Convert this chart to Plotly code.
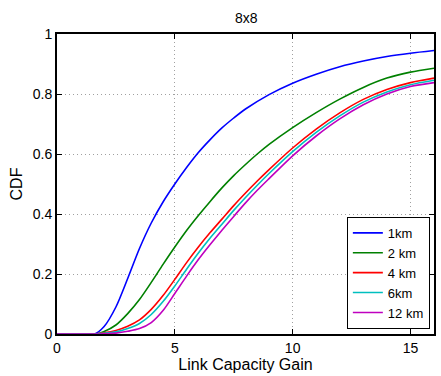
import plotly.graph_objects as go

names = ["1km", "2 km", "4 km", "6km", "12 km"]
colors = ["#0000ff", "#008000", "#ff0000", "#00bfbf", "#bf00bf"]

x_1km = [0, 1.6, 2, 2.5, 3, 3.5, 4, 4.5, 5, 5.5, 6, 6.5, 7, 7.5, 8, 9, 10, 11, 12, 13, 14, 15, 16]
y_1km = [0, 0, 0.025, 0.09, 0.185, 0.285, 0.37, 0.44, 0.50, 0.555, 0.605, 0.648, 0.687, 0.72, 0.75, 0.798, 0.836, 0.866, 0.891, 0.91, 0.925, 0.936, 0.945]

x_2km = [0, 1.7, 2, 2.5, 3, 3.5, 4, 4.5, 5, 5.5, 6, 6.5, 7, 7.5, 8, 8.5, 9, 10, 11, 12, 13, 14, 15, 16]
y_2km = [0, 0, 0.008, 0.03, 0.068, 0.115, 0.172, 0.232, 0.29, 0.345, 0.395, 0.442, 0.487, 0.528, 0.565, 0.6, 0.632, 0.688, 0.738, 0.783, 0.822, 0.853, 0.873, 0.886]

x_4km = [0, 1.5, 2, 2.5, 3, 3.5, 4, 4.5, 5, 5.5, 6, 6.5, 7, 7.5, 8, 8.5, 9, 10, 11, 12, 13, 14, 15, 16]
y_4km = [0, 0, 0.004, 0.012, 0.026, 0.047, 0.082, 0.128, 0.182, 0.238, 0.29, 0.338, 0.383, 0.428, 0.47, 0.51, 0.548, 0.62, 0.683, 0.737, 0.782, 0.815, 0.838, 0.853]

x_6km = [0, 1.6, 2, 2.5, 3, 3.5, 4, 4.5, 5, 5.5, 6, 6.5, 7, 7.5, 8, 8.5, 9, 10, 11, 12, 13, 14, 15, 16]
y_6km = [0, 0, 0.002, 0.007, 0.018, 0.035, 0.065, 0.108, 0.16, 0.216, 0.27, 0.32, 0.366, 0.412, 0.455, 0.496, 0.535, 0.608, 0.672, 0.727, 0.773, 0.807, 0.831, 0.846]

x_12km = [0, 1.8, 2, 2.5, 3, 3.5, 4, 4.5, 5, 5.5, 6, 6.5, 7, 7.5, 8, 8.5, 9, 10, 11, 12, 13, 14, 15, 16]
y_12km = [0, 0, 0.001, 0.003, 0.009, 0.018, 0.038, 0.078, 0.135, 0.193, 0.248, 0.298, 0.346, 0.392, 0.437, 0.479, 0.518, 0.594, 0.66, 0.717, 0.764, 0.8, 0.825, 0.838]

series_x = [x_1km, x_2km, x_4km, x_6km, x_12km]
series_y = [y_1km, y_2km, y_4km, y_6km, y_12km]

x_ticks = [0, 5, 10, 15]
y_ticks = [0, 0.2, 0.4, 0.6, 0.8, 1]
y_ticklabels = ["0", "0.2", "0.4", "0.6", "0.8", "1"]

fig = go.Figure()
for n, c, xs, ys in zip(names, colors, series_x, series_y):
    fig.add_trace(go.Scatter(x=xs, y=ys, mode="lines", name=n,
                             line=dict(color=c, width=1.6, shape="spline", smoothing=0.8)))

font = "Liberation Sans, Arial, Helvetica, sans-serif"
axis_common = dict(
    showline=True, linecolor="black", linewidth=2, mirror="ticks",
    ticks="inside", ticklen=5, tickwidth=1, tickcolor="black",
    showgrid=True, gridcolor="#a0a0a0", griddash="1px,3px", gridwidth=1,
    zeroline=False, tickfont=dict(family=font, size=14, color="black"),
)

fig.update_layout(
    width=441, height=376,
    margin=dict(l=57, r=5, t=34, b=42),
    paper_bgcolor="white", plot_bgcolor="white",
    title=dict(text="8x8", x=0.5585, xanchor="center", y=0.952, yanchor="middle",
               font=dict(family=font, size=14, color="black")),
    xaxis=dict(range=[0, 16], tickvals=x_ticks,
               title=dict(text="Link Capacity Gain", font=dict(family=font, size=16, color="black"), standoff=2),
               **axis_common),
    yaxis=dict(range=[0, 1], tickvals=y_ticks, ticktext=y_ticklabels,
               title=dict(text="CDF", font=dict(family=font, size=16, color="black"), standoff=6),
               **axis_common),
    legend=dict(x=0.989, y=0.017, xanchor="right", yanchor="bottom",
                bgcolor="white", bordercolor="black", borderwidth=1,
                font=dict(family=font, size=13, color="black"),
                tracegroupgap=0, itemwidth=30),
    showlegend=True,
)

fig.write_html("out.html")
